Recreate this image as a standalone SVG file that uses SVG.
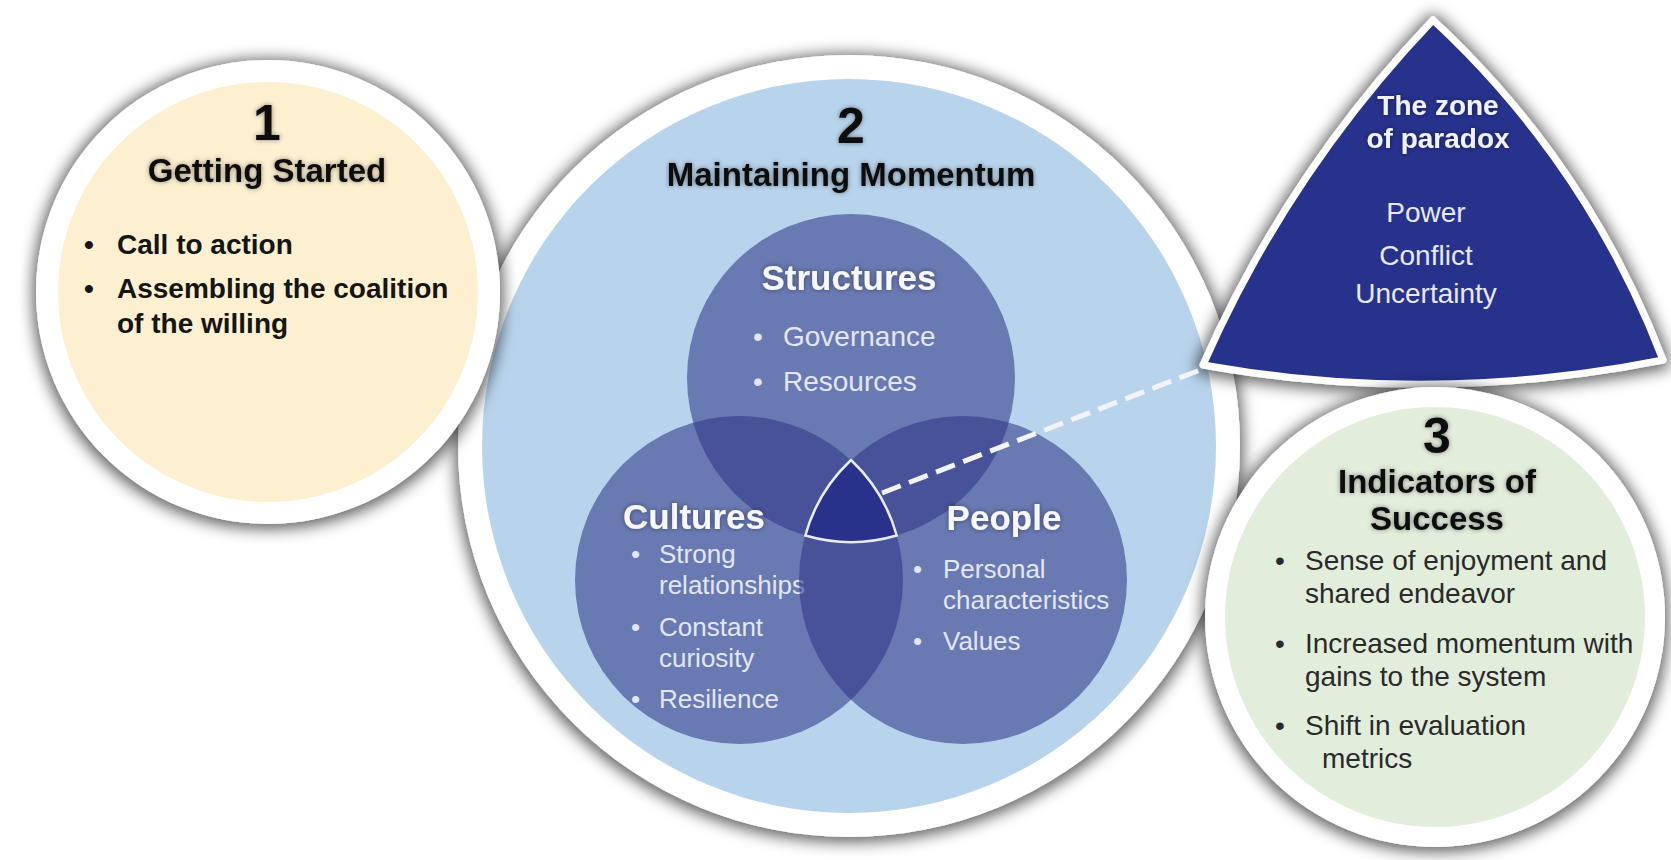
<svg xmlns="http://www.w3.org/2000/svg" width="1671" height="860" viewBox="0 0 1671 860">
  <defs>
    <filter id="shadow" x="-20%" y="-20%" width="140%" height="140%">
      <feMorphology in="SourceAlpha" operator="dilate" radius="3" result="d"/>
      <feGaussianBlur in="d" stdDeviation="7.5"/>
      <feOffset dx="0" dy="2" result="b"/>
      <feFlood flood-color="#000" flood-opacity="0.62"/>
      <feComposite in2="b" operator="in"/>
      <feMerge>
        <feMergeNode/>
        <feMergeNode in="SourceGraphic"/>
      </feMerge>
    </filter>
    <filter id="halo" x="-10%" y="-30%" width="120%" height="160%">
      <feGaussianBlur in="SourceAlpha" stdDeviation="2.4" result="b"/>
      <feFlood flood-color="#000" flood-opacity="0.45"/>
      <feComposite in2="b" operator="in"/>
      <feMerge>
        <feMergeNode/>
        <feMergeNode in="SourceGraphic"/>
      </feMerge>
    </filter>
    <style>
      text { font-family: "Liberation Sans", Arial, sans-serif; }
      .ring { fill: #ffffff; }
      .num { font-size: 50px; font-weight: bold; fill: #111; text-anchor: middle; }
      .title { font-size: 33px; font-weight: bold; fill: #111; text-anchor: middle; }
      .b1 { font-size: 28px; font-weight: bold; fill: #151515; }
      .b3 { font-size: 28px; fill: #2a2a2a; }
      .venn { fill: #2d3585; fill-opacity: 0.57; }
      .vt { font-size: 35px; font-weight: bold; fill: #f6f7fc; text-anchor: middle; }
      .vs { font-size: 28px; fill: #e3e7f5; }
      .vb { font-size: 26px; fill: #e3e7f5; }
      .pt { font-size: 28px; font-weight: bold; fill: #f0f2fb; text-anchor: middle; }
      .pb { font-size: 28px; fill: #e6e9f8; text-anchor: middle; }
    </style>
  </defs>

  <rect width="1671" height="860" fill="#ffffff"/>

  <!-- 2: Maintaining Momentum -->
  <g id="maintaining-momentum">
    <g filter="url(#shadow)">
      <circle class="ring" cx="849" cy="446" r="391"/>
    </g>
    <circle cx="849" cy="446" r="367" fill="#b8d4ed"/>
    <text class="num" x="851" y="143" filter="url(#halo)">2</text>
    <text class="title" x="851" y="186" filter="url(#halo)">Maintaining Momentum</text>
  </g>

  <!-- Venn of structures, cultures and people -->
  <g id="structures">
    <circle class="venn" cx="851" cy="378" r="164"/>
    <text class="vt" x="849" y="290" filter="url(#halo)">Structures</text>
    <text class="vs" x="753" y="346">•</text>
    <text class="vs" x="783" y="346">Governance</text>
    <text class="vs" x="753" y="391">•</text>
    <text class="vs" x="783" y="391">Resources</text>
  </g>
  <g id="cultures">
    <circle class="venn" cx="739" cy="580" r="164"/>
    <text class="vt" x="694" y="529" filter="url(#halo)">Cultures</text>
    <text class="vb" x="631" y="563">•</text>
    <text class="vb" x="659" y="563">Strong</text>
    <text class="vb" x="659" y="594">relationships</text>
    <text class="vb" x="631" y="636">•</text>
    <text class="vb" x="659" y="636">Constant</text>
    <text class="vb" x="659" y="667">curiosity</text>
    <text class="vb" x="631" y="708">•</text>
    <text class="vb" x="659" y="708">Resilience</text>
  </g>
  <g id="people">
    <circle class="venn" cx="963" cy="580" r="164"/>
    <text class="vt" x="1004" y="530" filter="url(#halo)">People</text>
    <text class="vb" x="913" y="578">•</text>
    <text class="vb" x="943" y="578">Personal</text>
    <text class="vb" x="943" y="609">characteristics</text>
    <text class="vb" x="913" y="650">•</text>
    <text class="vb" x="943" y="650">Values</text>
  </g>
  <g id="centre-zone">
    <path d="M851,460 A164,164 0 0 0 805.3,535.5 A164,164 0 0 0 896.7,535.5 A164,164 0 0 0 851,460 Z" fill="#28328a" stroke="#e8ebf6" stroke-width="2.5" stroke-linejoin="round"/>
  </g>

  <!-- 1: Getting Started -->
  <g id="getting-started">
    <g filter="url(#shadow)">
      <circle class="ring" cx="268" cy="292" r="232"/>
    </g>
    <circle cx="268" cy="292" r="210" fill="#fdf0d0"/>
    <text class="num" x="267" y="140" filter="url(#halo)">1</text>
    <text class="title" x="267" y="182" filter="url(#halo)">Getting Started</text>
    <text class="b1" x="84" y="254">•</text>
    <text class="b1" x="117" y="254">Call to action</text>
    <text class="b1" x="84" y="298">•</text>
    <text class="b1" x="117" y="298">Assembling the coalition</text>
    <text class="b1" x="117" y="333">of the willing</text>
  </g>

  <!-- The zone of paradox -->
  <g id="zone-of-paradox">
    <g filter="url(#shadow)">
      <path d="M1433,20 Q1588,164 1663,360 Q1432,406 1203,365 Q1288,172 1433,20 Z" fill="#28338c" stroke="#ffffff" stroke-width="7" stroke-linejoin="round"/>
    </g>
    <text class="pt" x="1438" y="115" filter="url(#halo)">The zone</text>
    <text class="pt" x="1438" y="148" filter="url(#halo)">of paradox</text>
    <text class="pb" x="1426" y="222">Power</text>
    <text class="pb" x="1426" y="265">Conflict</text>
    <text class="pb" x="1426" y="303">Uncertainty</text>
  </g>

  <!-- 3: Indicators of Success -->
  <g id="indicators-of-success">
    <g filter="url(#shadow)">
      <circle class="ring" cx="1435" cy="617" r="230"/>
    </g>
    <circle cx="1435" cy="617" r="210" fill="#e2eedc"/>
    <text class="num" x="1437" y="453" filter="url(#halo)">3</text>
    <text class="title" x="1437" y="493" filter="url(#halo)">Indicators of</text>
    <text class="title" x="1437" y="530" filter="url(#halo)">Success</text>
    <text class="b3" x="1275" y="570">•</text>
    <text class="b3" x="1305" y="570">Sense of enjoyment and</text>
    <text class="b3" x="1305" y="603">shared endeavor</text>
    <text class="b3" x="1275" y="653">•</text>
    <text class="b3" x="1305" y="653">Increased momentum with</text>
    <text class="b3" x="1305" y="686">gains to the system</text>
    <text class="b3" x="1275" y="735">•</text>
    <text class="b3" x="1305" y="735">Shift in evaluation</text>
    <text class="b3" x="1322" y="768">metrics</text>
  </g>

  <!-- connector from the centre zone to the zone of paradox -->
  <g id="connectors">
    <line x1="882" y1="493" x2="1200" y2="370" stroke="#f2f4fa" stroke-width="5" stroke-dasharray="20 9"/>
  </g>
</svg>
